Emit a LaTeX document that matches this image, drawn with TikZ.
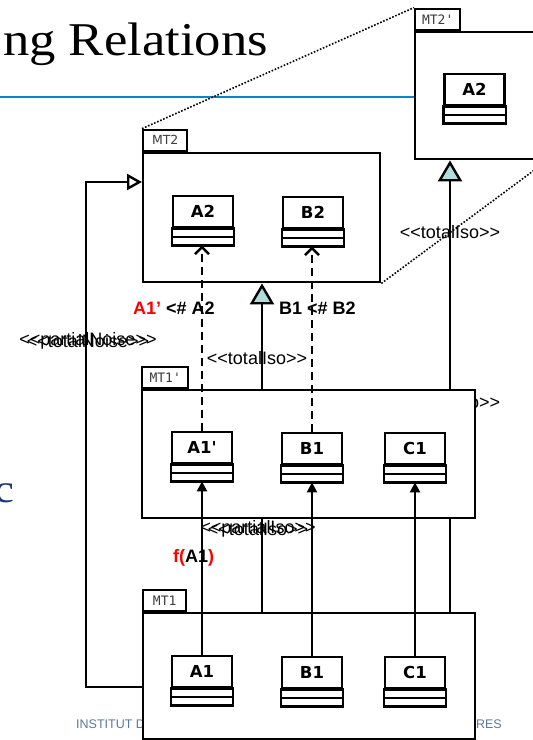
\documentclass[tikz,border=0pt]{standalone}
\usepackage{fontspec}
\setmainfont{Liberation Serif}
\newfontfamily\titlefont[FakeStretch=1.12]{Liberation Serif}
\newfontfamily\lsans[Ligatures=TeXOff]{Liberation Sans}
\newfontfamily\dvs[Ligatures=TeXOff]{DejaVu Sans}
\newfontfamily\dvm[Ligatures=TeXOff]{DejaVu Sans Mono}
\usetikzlibrary{arrows.meta,calc}
\definecolor{titleblue}{RGB}{0,136,204}
\definecolor{triblue}{RGB}{176,220,222}
\definecolor{footgray}{RGB}{90,120,150}
\definecolor{navyc}{RGB}{28,52,112}
\definecolor{tabgray}{RGB}{60,60,60}
\newcommand\umlcls[4]{%
  \node[clsname] (#1) at (#2,#3) {#4};
  \draw[comp] (#1.south west) rectangle ($(#1.south east)+(0,8.5)$);
  \draw[comp] ($(#1.south west)+(0,8.5)$) rectangle ($(#1.south east)+(0,17)$);
  \coordinate (#1-b) at ($(#1.south)+(0,17)$);
}
\begin{document}
\begin{tikzpicture}[x=1pt,y=-1pt,
  pkg/.style={draw,line width=2.4pt,fill=white,inner sep=0pt,anchor=north west},
  tabbox/.style={draw,line width=2.4pt,fill=white,inner sep=0pt,anchor=south west,minimum height=21pt,text=tabgray},
  clsname/.style={draw,line width=2.4pt,fill=white,inner sep=0pt,minimum width=60pt,minimum height=31pt,anchor=north,font=\dvs\bfseries\fontsize{16.5}{17}\selectfont},
  comp/.style={draw,line width=2.4pt,fill=white},
  lbl/.style={inner sep=0pt,font=\lsans\fontsize{18}{19}\selectfont},
  blbl/.style={inner sep=0pt,font=\lsans\bfseries\fontsize{18}{19}\selectfont},
  gen/.style={line width=2.4pt,-{Triangle[length=21pt,width=24pt,fill=triblue]}},
  opengen/.style={line width=2.4pt,-{Triangle[open,length=15pt,width=16pt]}},
  dep/.style={line width=2.4pt,dash pattern=on 8pt off 5pt,-{Straight Barb[length=7pt,width=14pt]}},
  assoc/.style={line width=2.4pt,-{Triangle[length=10pt,width=10pt]}},
  dotln/.style={line width=1.6pt,dash pattern=on 1.6pt off 1.7pt},
]
\useasboundingbox (0,0) rectangle (533,740);
\clip (0,0) rectangle (533,740);
% slide background parts
\node[anchor=base east,inner sep=0pt,font=\titlefont\fontsize{47}{50}\selectfont] (title) at (268,55) {ng Relations};
\draw[titleblue,line width=2pt] (0,97) -- (420,97);
\node[anchor=base west,inner sep=0pt,text=footgray,font=\lsans\fontsize{12.5}{13}\selectfont] (foot1) at (76,728) {INSTITUT DE};
\node[anchor=base east,inner sep=0pt,text=footgray,font=\lsans\fontsize{12.5}{13}\selectfont] (foot2) at (502,728) {OIRES};
\node[anchor=base east,inner sep=0pt,text=navyc,font=\titlefont\fontsize{40}{40}\selectfont] (cc) at (15,502) {c};
\node[lbl] (t3) at (450,402) {<<totalIso>>};
% MT2'
\node[pkg,minimum width=131pt,minimum height=127pt] (MT2p) at (414,31) {};
\node[tabbox,minimum width=45pt,font=\dvm\fontsize{13}{13}\selectfont] (MT2ptab) at (MT2p.north west) {MT2'};
\umlcls{A2p}{474.5}{73}{A2}
% MT2
\node[pkg,minimum width=237pt,minimum height=129pt] (MT2) at (142,152) {};
\node[tabbox,minimum width=44pt,font=\dvs\fontsize{12.5}{12.5}\selectfont] (MT2tab) at (MT2.north west) {MT2};
\umlcls{A2}{203}{195}{A2}
\umlcls{B2}{313}{196}{B2}
% MT1
\node[pkg,minimum width=332pt,minimum height=126pt] (MT1) at (142,612) {};
\node[tabbox,minimum width=43pt,font=\dvm\fontsize{13}{13}\selectfont] (MT1tab) at (MT1.north west) {MT1};
\umlcls{A1}{202}{655}{A1}
\umlcls{B1}{312}{656}{B1}
\umlcls{C1}{415}{656}{C1}
% generalisation connectors (behind MT1')
\coordinate (g1) at ($(MT2.south west)+(120,0)$);
\coordinate (g2) at ($(MT2p.south west)+(36,0)$);
\draw[gen] (g1 |- MT1.north) -- (g1);
\draw[gen] (g2 |- MT1.north) -- (g2);
% MT1'
\node[pkg,minimum width=333pt,minimum height=128pt] (MT1p) at (141,389) {};
\node[tabbox,minimum width=46pt,font=\dvm\fontsize{13}{13}\selectfont] (MT1ptab) at (MT1p.north west) {MT1'};
\umlcls{A1p}{202}{431}{A1'}
\umlcls{B1p}{312}{432}{B1}
\umlcls{C1p}{415}{432}{C1}
% left connector
\coordinate (lc1) at ($(MT1.north west)+(0,75)$);
\coordinate (lc2) at ($(MT2.north west)+(0,30)$);
\draw[opengen] (lc1) -- ++(-56,0) |- (lc2);
% dependencies
\draw[dep] (A1p.north) -- (A1p.north |- A2-b);
\draw[dep] (B1p.north) -- (B1p.north |- B2-b);
% associations
\draw[assoc] (A1.north) -- (A1.north |- A1p-b);
\draw[assoc] (B1.north) -- (B1.north |- B1p-b);
\draw[assoc] (C1.north) -- (C1.north |- C1p-b);
% labels
\node[blbl,anchor=west] (lA) at (133,308) {\textcolor{red}{A1’} <\# A2};
\node[blbl,anchor=west] (lB) at (279,308) {B1 <\# B2};
\node[lbl] (t1) at (257,358) {<<totalIso>>};
\node[lbl] (t2) at (450,232) {<<totalIso>>};
\node[lbl] (p1) at (88,341) {<<partialNoise>>};
\node[lbl] (p2) at (88,341) {<<totalNoise>>};
\node[lbl] (p3) at (258,529) {<<partialIso>>};
\node[lbl] (p4) at (258,529) {<<totalIso>>};
\node[blbl,anchor=west] (fA) at (173,558) {\textcolor{red}{f(}A1\textcolor{red}{)}};
% zoom lines
\draw[dotln] (MT2tab.north west) -- (MT2ptab.north west);
\draw[dotln] (MT2.south east) -- (MT2p.south east);
\end{tikzpicture}
\end{document}
